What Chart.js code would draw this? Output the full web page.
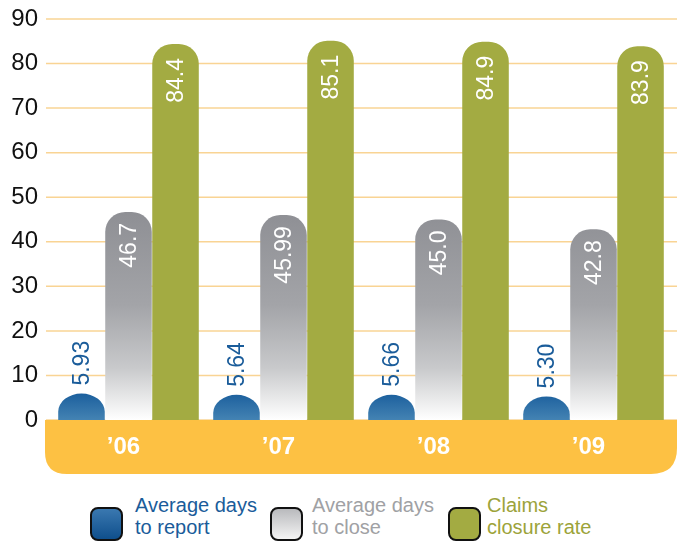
<!DOCTYPE html>
<html>
<head>
<meta charset="utf-8">
<script src="https://cdn.jsdelivr.net/npm/chart.js@4/dist/chart.umd.min.js"></script>
<style>
body{margin:0;background:#fff;font-family:"Liberation Sans",Arial,sans-serif;}
#wrap{position:relative;width:677px;height:546px;overflow:hidden;}
#c{position:absolute;left:0;top:0;}
.lg{position:absolute;top:494px;font-size:20px;line-height:22px;}
.box{position:absolute;top:507px;width:29px;height:30px;border:2px solid #111;border-radius:8px;}
</style>
</head>
<body>
<div id="wrap">
  <canvas id="c" width="677" height="490"></canvas>
  <div class="box" style="left:90px;background:linear-gradient(#3a78b0,#0f4f8c);"></div>
  <div class="lg" style="left:135px;color:#1a5c9a;">Average days<br>to report</div>
  <div class="box" style="left:270px;background:linear-gradient(#b9babd,#f4f4f4);"></div>
  <div class="lg" style="left:312px;color:#a0a1a4;">Average days<br>to close</div>
  <div class="box" style="left:448px;background:#a3ab42;"></div>
  <div class="lg" style="left:487px;color:#9ca33a;">Claims<br>closure rate</div>
</div>
<script>
const years = ['\u201906', '\u201907', '\u201908', '\u201909']
const daysToReport = [5.93, 5.64, 5.66, 5.30]
const daysToClose = [46.7, 45.99, 45.0, 42.8]
const closureRate = [84.4, 85.1, 84.9, 83.9]
// texts printed on the bars, as in the original
const reportText = ['5.93', '5.64', '5.66', '5.30']
const closeText = ['46.7', '45.99', '45.0', '42.8']
const rateText = ['84.4', '85.1', '84.9', '83.9']
const yTicks = [0, 10, 20, 30, 40, 50, 60, 70, 80, 90]

const labelSets = [reportText, closeText, rateText]

// gradient helper, top -> bottom in value units
function vGrad(chart, from, to, stops){
  const y = chart.scales.y
  const g = chart.ctx.createLinearGradient(0, y.getPixelForValue(from), 0, y.getPixelForValue(to))
  stops.forEach(s => g.addColorStop(s[0], s[1]))
  return g
}

// orange band behind x labels + grid lines running past the plot area
const band = {
  id: 'band',
  beforeDraw(chart){
    const { ctx } = chart
    const ys = chart.scales.y
    const y0 = ys.getPixelForValue(0)
    const l = 45, r = chart.width, b = y0 + 54
    const rl = 22, rr = 26
    ctx.save()
    ctx.strokeStyle = '#f9d494'
    ctx.lineWidth = 1.5
    ys.ticks.forEach(t => {
      const py = ys.getPixelForValue(t.value)
      ctx.beginPath()
      ctx.moveTo(46, py)
      ctx.lineTo(r, py)
      ctx.stroke()
    })
    ctx.fillStyle = '#fdc143'
    ctx.beginPath()
    ctx.moveTo(l, y0)
    ctx.lineTo(r, y0)
    ctx.lineTo(r, b - rr)
    ctx.quadraticCurveTo(r, b, r - rr, b)
    ctx.lineTo(l + rl, b)
    ctx.quadraticCurveTo(l, b, l, b - rl)
    ctx.closePath()
    ctx.fill()
    ctx.restore()
  }
}

// the short blue bars are domes, the bar radius option can't do that
const domes = {
  id: 'domes',
  beforeDatasetDraw(chart, args){
    if(args.index !== 0) return
    const ctx = chart.ctx
    args.meta.data.forEach(bar => {
      const { x, y, base, width } = bar.getProps(['x', 'y', 'base', 'width'], true)
      const rx = width / 2, ry = Math.min(18, base - y)
      ctx.save()
      ctx.fillStyle = bar.options.backgroundColor
      ctx.beginPath()
      ctx.moveTo(x - rx, base)
      ctx.lineTo(x - rx, y + ry)
      ctx.ellipse(x, y + ry, rx, ry, 0, Math.PI, Math.PI * 2)
      ctx.lineTo(x + rx, base)
      ctx.closePath()
      ctx.fill()
      ctx.restore()
    })
    return false
  }
}

// rotated value labels
const valueLabels = {
  id: 'valueLabels',
  afterDatasetsDraw(chart){
    const ctx = chart.ctx
    ctx.save()
    ctx.font = '23px "Liberation Sans", Arial, sans-serif'
    ctx.textBaseline = 'middle'
    chart.data.datasets.forEach((ds, i) => {
      chart.getDatasetMeta(i).data.forEach((bar, j) => {
        ctx.save()
        ctx.translate(bar.x + 1, bar.y)
        ctx.rotate(-Math.PI / 2)
        if(i === 0){
          ctx.textAlign = 'left'
          ctx.fillStyle = '#1a5c9a'
          ctx.fillText(labelSets[i][j], 8, 0)
        } else {
          ctx.textAlign = 'right'
          ctx.fillStyle = '#ffffff'
          ctx.fillText(labelSets[i][j], i === 1 ? -11 : -14, 0)
        }
        ctx.restore()
      })
    })
    ctx.restore()
  }
}

new Chart(document.getElementById('c'), {
  type: 'bar',
  data: {
    labels: years,
    datasets: [
      {
        label: 'Average days to report',
        data: daysToReport,
        backgroundColor: c => c.chart.chartArea ? vGrad(c.chart, 6, 0, [[0, '#1b5f9d'], [1, '#4483b3']]) : '#1b5f9d',
        borderSkipped: 'bottom'
      },
      {
        label: 'Average days to close',
        data: daysToClose,
        backgroundColor: c => c.chart.chartArea ? vGrad(c.chart, 47, 0, [[0, '#8e8f94'], [0.45, '#a3a4a8'], [0.75, '#c8c9cb'], [1, '#ffffff']]) : '#999',
        borderRadius: { topLeft: 20, topRight: 20 },
        borderSkipped: 'bottom'
      },
      {
        label: 'Claims closure rate',
        data: closureRate,
        backgroundColor: '#a3ab42',
        borderRadius: { topLeft: 20, topRight: 20 },
        borderSkipped: 'bottom'
      }
    ]
  },
  options: {
    responsive: false,
    animation: false,
    layout: { padding: { top: 19, right: 6, left: 0, bottom: 0 } },
    datasets: { bar: { categoryPercentage: 0.91, barPercentage: 0.99 } },
    plugins: {
      legend: { display: false },
      tooltip: { enabled: false }
    },
    scales: {
      x: {
        grid: { display: false, drawTicks: false },
        border: { display: false },
        ticks: {
          color: '#ffffff',
          padding: 13,
          labelOffset: -5,
          font: { family: '"Liberation Sans", Arial, sans-serif', size: 24, weight: 'bold' }
        },
        afterFit: s => { s.height = 70 }
      },
      y: {
        min: 0,
        max: 90,
        afterBuildTicks: s => { s.ticks = yTicks.map(v => ({ value: v })) },
        grid: { display: false, drawTicks: false },
        border: { display: false },
        ticks: {
          color: '#111111',
          padding: 13,
          font: { family: '"Liberation Sans", Arial, sans-serif', size: 24 }
        },
        afterFit: s => { s.width = 51; s.paddingTop = 0; s.paddingBottom = 0 }
      }
    }
  },
  plugins: [band, domes, valueLabels]
})
</script>
</body>
</html>
